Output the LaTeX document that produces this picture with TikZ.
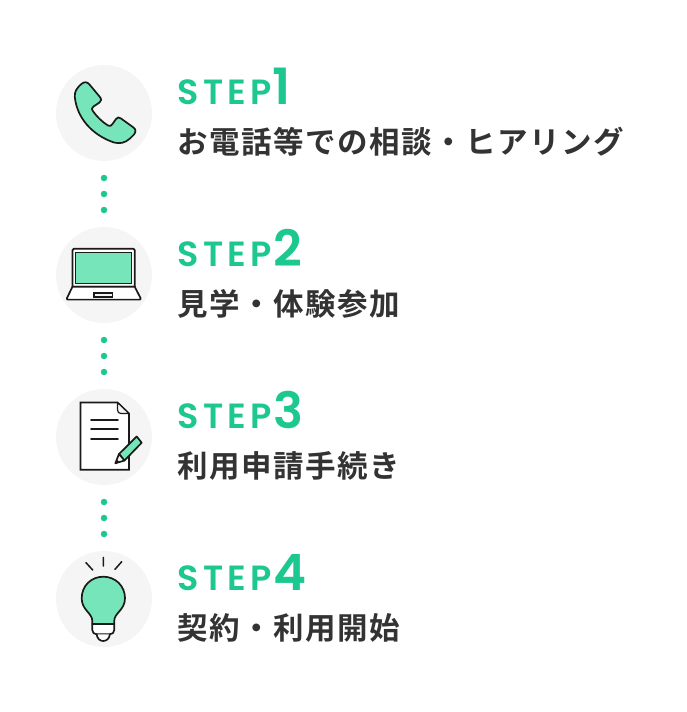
\documentclass[tikz,border=0pt]{standalone}
\usepackage{fontspec}
\newfontfamily\jpf[LetterSpace=5]{Noto Sans CJK JP Bold}
\newfontfamily\stepf[LetterSpace=12]{Poppins SemiBold}
\newfontfamily\numf{Poppins SemiBold}
\definecolor{lgreen}{HTML}{76E5BA}
\definecolor{dgreen}{HTML}{1CC88F}
\definecolor{ink}{HTML}{1A1A1A}
\definecolor{txt}{HTML}{333333}
\definecolor{disc}{HTML}{F5F5F5}
\tikzset{
 bgdisc/.style={circle,fill=disc,minimum size=96pt,inner sep=0pt},
 dotn/.style={circle,fill=dgreen,minimum size=6.5pt,inner sep=0pt},
 icon/.style={draw=ink,line width=1.7pt,line join=round,line cap=round},
 steplabel/.style={anchor=base west,inner sep=0pt,text=dgreen,font=\fontsize{35}{35}\stepf},
 numlabel/.style={anchor=base west,inner sep=0pt,text=dgreen,font=\fontsize{50}{50}\numf},
 title/.style={anchor=base west,inner sep=0pt,text=txt,font=\fontsize{30.5}{30.5}\jpf},
}
\begin{document}
\begin{tikzpicture}[x=1pt,y=-1pt]
\useasboundingbox (0,0) rectangle (686,712);
\fill[white] (0,0) rectangle (686,712);
% discs
\node[bgdisc] (c1) at (104,113) {};
\node[bgdisc] (c2) at (104,275) {};
\node[bgdisc] (c3) at (104,437) {};
\node[bgdisc] (c4) at (104,599) {};
% dots
\foreach \n/\y in {a/178,b/194,c/210,d/340,e/356,f/372,g/502,h/518,i/534}
  \node[dotn] (dot\n) at (104,\y) {};
% phone
\draw[icon,fill=lgreen]
 (82,83.5) .. controls (84.5,81.5) and (87.5,82) .. (89.5,84.5)
 -- (99.5,96.5) .. controls (101.8,99.2) and (101.5,101) .. (99.5,102.5)
 -- (93.5,106.5) .. controls (91.5,108) and (91.5,109.5) .. (92.8,111)
 .. controls (97,117) and (103,122.5) .. (108,125.5)
 .. controls (110,126.5) and (111,126) .. (112.5,124)
 -- (116,119) .. controls (117.5,117) and (119,117) .. (121,118.5)
 -- (133.5,127.5) .. controls (136,129.5) and (136,132) .. (134,134.5)
 -- (130,138.5) .. controls (125,143) and (120,144) .. (114,142.5)
 .. controls (92,135) and (77,118) .. (74.8,97)
 .. controls (74.5,92) and (76,88.5) .. (82,83.5) -- cycle;
% laptop
\draw[icon,fill=white] (72.5,286.7) -- (72.5,250) .. controls (72.5,249) and (73,248.7) .. (74,248.7)
 -- (133.3,248.7) .. controls (134.3,248.7) and (134.7,249) .. (134.7,250) -- (134.7,286.7) -- cycle;
\fill[lgreen] (75.7,252.3) rectangle (131.7,283.3);
\draw[draw=ink,line width=1.4pt] (75.7,252.3) rectangle (131.7,283.3);
\draw[icon,fill=white] (72.5,286.7) -- (67,298) .. controls (66.5,299) and (67,299.6) .. (68,299.6)
 -- (139.5,299.6) .. controls (140.5,299.6) and (141,299) .. (140.5,298) -- (134.7,286.7) -- cycle;
\draw[draw=ink,line width=1.2pt,fill=disc] (94,293) rectangle (112.7,297);
% document
\draw[icon,line join=miter,fill=white] (80.5,402.5) -- (117.5,402.5) -- (129,413.5) -- (129,469.7) -- (80.5,469.7) -- cycle;
\draw[icon,line width=1.2pt,fill=disc] (117.5,402.5) -- (117.5,410) .. controls (117.5,412) and (119,413.5) .. (121,413.5) -- (129,413.5) -- cycle;
\draw[icon] (91,419.7) -- (118,419.7) (91,429.3) -- (118,429.3) (91,438.7) -- (118,438.7);
% pen
\draw[icon,fill=lgreen] (119,454) -- (136.7,436.5) -- (141.7,442.7) -- (124.5,460.5) -- cycle;
\draw[icon,fill=disc] (119,454) -- (115.3,463.3) -- (124.5,460.5) -- cycle;
\fill[ink] (115.3,463.3) -- (116.8,459.5) -- (119.3,461.8) -- cycle;
% bulb
\draw[icon,line width=1.5pt] (86,562.7) -- (92.7,570) (103.3,557.3) -- (103.3,566) (121.7,561.7) -- (115,569.3);
\draw[icon,fill=white] (92.3,624) -- (92.3,630) .. controls (92.3,632.5) and (94,634.3) .. (96.7,634.3) -- (109.8,634.3) .. controls (112.5,634.3) and (114.2,632.5) .. (114.2,630) -- (114.2,624);
\draw[icon,fill=white] (96.7,634.3) .. controls (97,638.5) and (100,641) .. (103.2,641) .. controls (106.5,641) and (109.5,638.5) .. (109.8,634.3);
\draw[icon,fill=lgreen] (92.3,624) -- (92.3,621) .. controls (92.3,613) and (81.7,610) .. (81.7,598.3)
 .. controls (81.7,586) and (91,576.7) .. (103.3,576.7)
 .. controls (115.5,576.7) and (125,586) .. (125,598.3)
 .. controls (125,610) and (114.2,613) .. (114.2,621) -- (114.2,624) -- cycle;
% text
\node[steplabel] (s1) at (177.5,104) {STEP};
\node[numlabel] (n1) at (272.5,104) {1};
\node[title] (t1) at (177.5,153) {お電話等での相談・ヒアリング};
\node[steplabel] (s2) at (177.5,266) {STEP};
\node[numlabel] (n2) at (273.5,266) {2};
\node[title] (t2) at (177.5,315) {見学・体験参加};
\node[steplabel] (s3) at (177.5,428) {STEP};
\node[numlabel] (n3) at (273.5,428) {3};
\node[title] (t3) at (177.5,477) {利用申請手続き};
\node[steplabel] (s4) at (177.5,590) {STEP};
\node[numlabel] (n4) at (273.5,590) {4};
\node[title] (t4) at (177.5,639) {契約・利用開始};
\end{tikzpicture}
\end{document}
